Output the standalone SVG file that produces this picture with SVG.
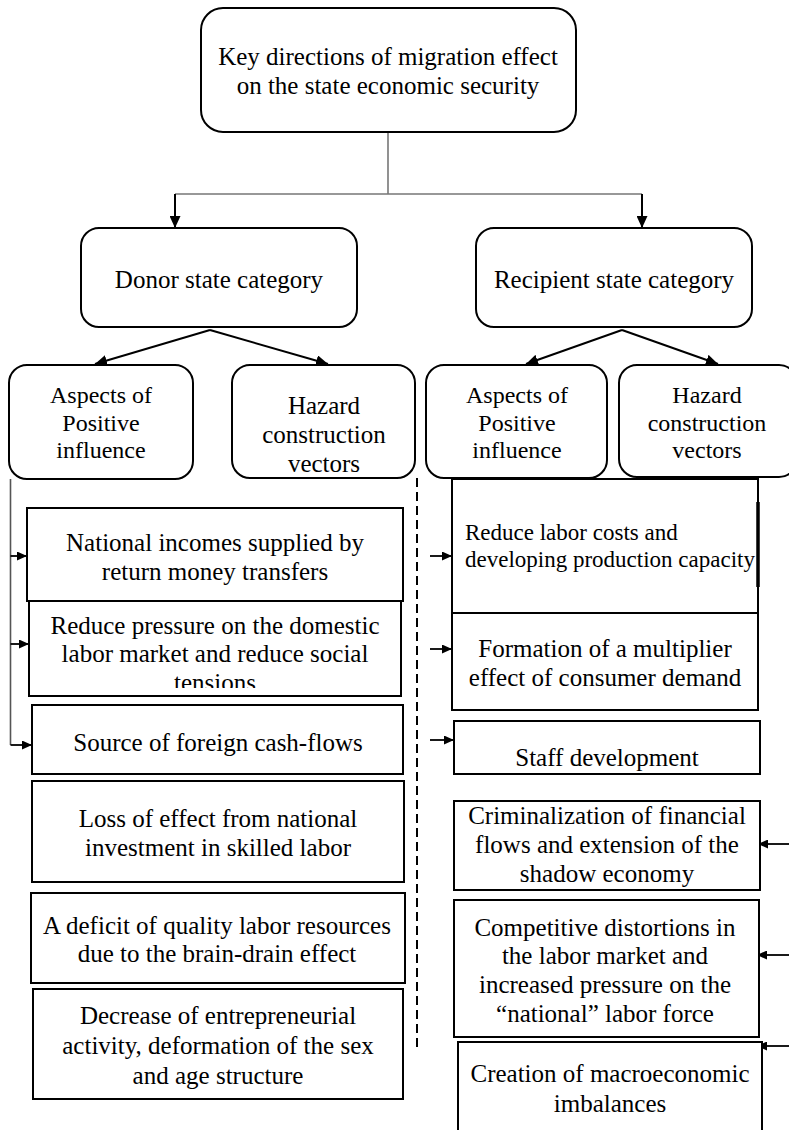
<svg xmlns="http://www.w3.org/2000/svg" width="789" height="1130" viewBox="0 0 789 1130" font-family="Liberation Serif, Times New Roman, serif">
<style>
.box{fill:#fff;stroke:#000;stroke-width:2}
text{font-family:'Liberation Serif','Times New Roman',serif}
.t{font-size:25px;fill:#000;text-anchor:middle;dominant-baseline:central}
.t4{font-size:24px;fill:#000;text-anchor:middle;dominant-baseline:central}
.ts{font-size:23px;fill:#000;dominant-baseline:central}
.g{fill:none;stroke:#777;stroke-width:1.6}
.a{fill:none;stroke:#000;stroke-width:2;marker-end:url(#ah)}
.as{fill:none;stroke:#000;stroke-width:1.8;marker-end:url(#ahs)}
.gl{fill:none;stroke:#555;stroke-width:1.6}
.d{fill:none;stroke:#000;stroke-width:2;stroke-dasharray:9 5}
</style>
<defs>
<marker id="ah" markerUnits="userSpaceOnUse" markerWidth="13" markerHeight="11" refX="12" refY="5.5" orient="auto">
<path d="M0,0 L12,5.5 L0,11 z" fill="#000"/>
</marker>
<marker id="ahs" markerUnits="userSpaceOnUse" markerWidth="11" markerHeight="9" refX="10" refY="4.5" orient="auto">
<path d="M0,0 L10,4.5 L0,9 z" fill="#000"/>
</marker>
<clipPath id="clipRP"><rect x="29" y="601" width="372" height="87"/></clipPath>
</defs>

<g id="connectors">
<path class="g" d="M388,132 V194 M175,194 H642"/>
<path class="a" d="M175,194 V228"/>
<path class="a" d="M642,194 V228"/>
<path class="a" d="M210,330 L95,364"/>
<path class="a" d="M210,330 L328,364"/>
<path class="a" d="M622,330 L526,364"/>
<path class="a" d="M622,330 L718,364"/>
<path class="gl" d="M10.5,479 V745"/>
<path class="as" d="M10.5,556 H27"/>
<path class="as" d="M10.5,644 H29"/>
<path class="as" d="M10.5,745 H32"/>
<path class="d" d="M417,478 V1050"/>
<path class="as" d="M430,556 H452"/>
<path class="as" d="M430,649 H452"/>
<path class="as" d="M430,740 H454"/>
<path class="as" d="M789,844 H758"/>
<path class="as" d="M789,955 H757"/>
<path class="as" d="M789,1046 H757"/>
</g>

<g id="root">
<rect class="box" x="201" y="8" width="375" height="124" rx="22"/>
<text class="t" x="388" y="56">Key directions of migration effect</text>
<text class="t" x="388" y="85">on the state economic security</text>
</g>

<g id="donor">
<rect class="box" x="81" y="228" width="276" height="99" rx="18"/>
<text class="t" x="219" y="279">Donor state category</text>
</g>
<g id="recipient">
<rect class="box" x="476" y="228" width="276" height="99" rx="18"/>
<text class="t" x="614" y="279">Recipient state category</text>
</g>

<g id="donor-positive">
<rect class="box" x="9" y="365" width="184" height="114" rx="18"/>
<text class="t4" x="101" y="395">Aspects of</text>
<text class="t4" x="101" y="423">Positive</text>
<text class="t4" x="101" y="450">influence</text>
</g>
<g id="donor-hazard">
<rect class="box" x="232" y="365" width="183" height="113" rx="18"/>
<text class="t" x="324" y="405">Hazard</text>
<text class="t" x="324" y="434">construction</text>
<text class="t" x="324" y="463">vectors</text>
</g>
<g id="recipient-positive">
<rect class="box" x="426" y="365" width="181" height="113" rx="18"/>
<text class="t4" x="517" y="395">Aspects of</text>
<text class="t4" x="517" y="423">Positive</text>
<text class="t4" x="517" y="450">influence</text>
</g>
<g id="recipient-hazard">
<rect class="box" x="619" y="365" width="178" height="112" rx="18"/>
<text class="t4" x="707" y="395">Hazard</text>
<text class="t4" x="707" y="423">construction</text>
<text class="t4" x="707" y="450">vectors</text>
</g>

<g id="d1">
<rect class="box" x="27" y="508" width="376" height="93"/>
<text class="t" x="215" y="542">National incomes supplied by</text>
<text class="t" x="215" y="571">return money transfers</text>
</g>
<g id="d2">
<rect class="box" x="29" y="601" width="372" height="95"/>
<g clip-path="url(#clipRP)">
<text class="t" x="215" y="625">Reduce pressure on the domestic</text>
<text class="t" x="215" y="653">labor market and reduce social</text>
<text class="t" x="215" y="682">tensions</text>
</g>
</g>
<g id="d3">
<rect class="box" x="32" y="705" width="371" height="69"/>
<text class="t" x="218" y="742">Source of foreign cash-flows</text>
</g>
<g id="d4">
<rect class="box" x="32" y="781" width="372" height="101"/>
<text class="t" x="218" y="818">Loss of effect from national</text>
<text class="t" x="218" y="847">investment in skilled labor</text>
</g>
<g id="d5">
<rect class="box" x="31" y="893" width="374" height="90"/>
<text class="t" x="217" y="925">A deficit of quality labor resources</text>
<text class="t" x="217" y="953">due to the brain-drain effect</text>
</g>
<g id="d6">
<rect class="box" x="33" y="989" width="370" height="110"/>
<text class="t" x="218" y="1015">Decrease of entrepreneurial</text>
<text class="t" x="218" y="1045">activity, deformation of the sex</text>
<text class="t" x="218" y="1075">and age structure</text>
</g>

<g id="r1">
<rect class="box" x="452" y="479" width="306" height="134"/>
<path d="M758,502 V587" stroke="#000" stroke-width="3.5"/>
<text class="ts" x="465" y="532">Reduce labor costs and</text>
<text class="ts" x="465" y="559">developing production capacity</text>
</g>
<g id="r2">
<rect class="box" x="452" y="613" width="306" height="97"/>
<text class="t" x="605" y="648">Formation of a multiplier</text>
<text class="t" x="605" y="677">effect of consumer demand</text>
</g>
<g id="r3">
<rect class="box" x="454" y="721" width="306" height="53"/>
<text class="t" x="607" y="757">Staff development</text>
</g>
<g id="r4">
<rect class="box" x="454" y="801" width="306" height="89"/>
<text class="t" x="607" y="815">Criminalization of financial</text>
<text class="t" x="607" y="844">flows and extension of the</text>
<text class="t" x="607" y="873">shadow economy</text>
</g>
<g id="r5">
<rect class="box" x="454" y="900" width="305" height="137"/>
<text class="t" x="605" y="927">Competitive distortions in</text>
<text class="t" x="605" y="955">the labor market and</text>
<text class="t" x="605" y="984">increased pressure on the</text>
<text class="t" x="605" y="1013">“national” labor force</text>
</g>
<g id="r6">
<rect class="box" x="458" y="1042" width="304" height="100"/>
<text class="t" x="610" y="1073">Creation of macroeconomic</text>
<text class="t" x="610" y="1103">imbalances</text>
</g>
</svg>
